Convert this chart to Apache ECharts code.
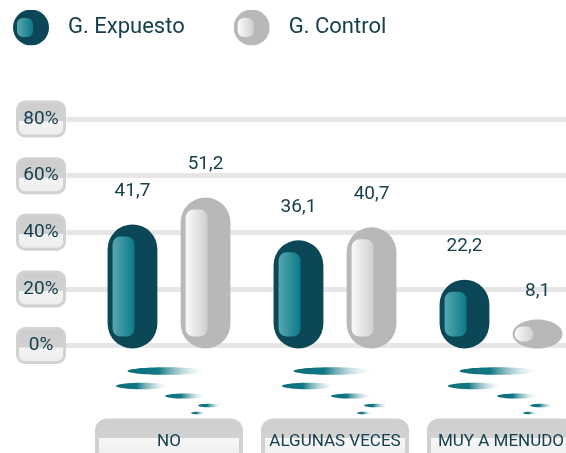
<!DOCTYPE html>
<html>
<head>
<meta charset="utf-8">
<script src="https://cdn.jsdelivr.net/npm/echarts@6/dist/echarts.min.js"></script>
<style>
  html, body { margin: 0; padding: 0; background: #fff; }
  #main { width: 566px; height: 453px; }
</style>
</head>
<body>
<div id="main"></div>
<script>
const categories = ['NO', 'ALGUNAS VECES', 'MUY A MENUDO'];
const expuesto = [41.7, 36.1, 22.2];
const control = [51.2, 40.7, 8.1];
const seriesNames = ['G. Expuesto', 'G. Control'];
const yMax = 80;
const yStep = 20;

const textColor = '#15404e';
const teal = { outer: '#0b4757', hiA: '#57a7b1', hiB: '#0a7a87' };
const grey = { outer: '#b8b8b8', hiA: '#fbfbfb', hiB: '#cfcfd3' };

// icono de leyenda: circulo con brillo
function iconSvg(c) {
  const svg = "<svg xmlns='http://www.w3.org/2000/svg' width='36' height='36'>" +
    "<defs><linearGradient id='g' x1='0' y1='0' x2='1' y2='0'>" +
    "<stop offset='0' stop-color='" + c.hiA + "'/><stop offset='1' stop-color='" + c.hiB + "'/>" +
    "</linearGradient></defs>" +
    "<circle cx='18' cy='18' r='18' fill='" + c.outer + "'/>" +
    "<rect x='4' y='8.5' width='16' height='19' rx='6' fill='url(#g)'/></svg>";
  return 'image://data:image/svg+xml;charset=utf-8,' + encodeURIComponent(svg);
}

function fmt(v) {
  return v.toFixed(1).replace('.', ',');
}

// barra tipo capsula
function capsule(colors, side) {
  return function (params, api) {
    const i = api.value(0);
    const v = api.value(1);
    const band = api.size([1, 0])[0];
    const w = band * 0.3;
    const top = api.coord([i, v]);
    const base = api.coord([i, 0]);
    const cx = top[0] + side * band * 0.22;
    const y0 = top[1] - 3;
    const y1 = base[1] + 3;
    const h = y1 - y0;
    const x0 = cx - w / 2;
    const flat = h < w;
    const outer = flat
      ? { type: 'ellipse', shape: { cx: cx, cy: (y0 + y1) / 2, rx: w / 2, ry: h / 2 }, style: { fill: colors.outer } }
      : { type: 'rect', shape: { x: x0, y: y0, width: w, height: h, r: w / 2 }, style: { fill: colors.outer } };
    const inset = Math.min(12, h * 0.24);
    const ih = h - 2 * inset;
    const inner = {
      type: 'rect',
      shape: {
        x: flat ? x0 + 2 : x0 + 5,
        y: y0 + inset,
        width: flat ? w * 0.38 : w * 0.44,
        height: ih,
        r: Math.min(8, ih / 2)
      },
      style: {
        fill: new echarts.graphic.LinearGradient(0, 0, 1, 0, [
          { offset: 0, color: colors.hiA },
          { offset: 1, color: colors.hiB }
        ])
      }
    };
    const label = {
      type: 'text',
      style: {
        text: fmt(v), x: cx, y: y0 - (flat ? 28 : 33),
        align: 'center', verticalAlign: 'middle',
        fill: textColor, font: '19px Roboto'
      }
    };
    return { type: 'group', children: [outer, inner, label] };
  };
}

// reflejos decorativos bajo cada grupo
function streaks(params, api) {
  const i = api.value(0);
  const p = api.coord([i, 0]);
  const shapes = [[-3, 25.5, 38.5, 3.8], [-27, 40.5, 26, 3.2], [16, 50.5, 20, 2.6], [40.5, 60, 11.5, 1.8], [29, 67.5, 7, 1.3]];
  return {
    type: 'group',
    children: shapes.map(function (s) {
      return {
        type: 'ellipse',
        shape: { cx: p[0] + s[0], cy: p[1] + s[1], rx: s[2], ry: s[3] },
        style: {
          fill: new echarts.graphic.LinearGradient(0, 0, 1, 0, [
            { offset: 0, color: '#0b6d79' },
            { offset: 0.4, color: '#127885' },
            { offset: 1, color: 'rgba(235,244,246,0.15)' }
          ])
        }
      };
    })
  };
}

const chart = echarts.init(document.getElementById('main'));

const option = {
  animation: false,
  textStyle: { fontFamily: 'Roboto' },
  legend: {
    left: 13,
    top: 9.5,
    padding: 0,
    itemWidth: 36,
    itemHeight: 36,
    itemGap: 49,
    data: seriesNames.map(function (n, k) {
      return { name: n, icon: iconSvg(k ? grey : teal) };
    }),
    textStyle: { fontSize: 22, color: textColor, padding: [0, 0, 0, 14] }
  },
  grid: [
    { left: 86, right: -18, top: 119, bottom: 107.5, outerBoundsMode: 'none' },
    { left: 63, right: 0, top: 119, bottom: 107.5, outerBoundsMode: 'none' }
  ],
  xAxis: [
    {
      type: 'category',
      gridIndex: 0,
      data: categories,
      axisLine: { show: false },
      axisTick: { show: false },
      axisLabel: {
        interval: 0,
        margin: 77,
        formatter: '{c|{value}}',
        rich: {
          c: {
            width: 140,
            height: 38,
            align: 'center',
            verticalAlign: 'middle',
            fontSize: 17,
            color: textColor,
            borderColor: '#d0d0d0',
            borderWidth: 4,
            borderRadius: 8,
            backgroundColor: new echarts.graphic.LinearGradient(0, 0, 0, 1, [
              { offset: 0, color: '#cfcfcf' },
              { offset: 0.42, color: '#d2d2d2' },
              { offset: 0.43, color: '#f7f7f7' },
              { offset: 1, color: '#ebebeb' }
            ])
          }
        }
      }
    },
    { type: 'value', gridIndex: 1, show: false }
  ],
  yAxis: [
    { type: 'value', gridIndex: 0, min: 0, max: yMax, show: false },
    {
      type: 'value',
      gridIndex: 1,
      min: 0,
      max: yMax,
      interval: yStep,
      axisLine: { show: false },
      axisTick: { show: false },
      splitLine: { lineStyle: { color: '#e6e6e6', width: 5 } },
      axisLabel: {
        margin: 0,
        formatter: '{t|{value}%}',
        rich: {
          t: {
            width: 44,
            height: 31,
            align: 'center',
            verticalAlign: 'middle',
            fontSize: 19,
            color: textColor,
            borderColor: '#d2d2d2',
            borderWidth: 3,
            borderRadius: 6,
            backgroundColor: new echarts.graphic.LinearGradient(0, 0, 0, 1, [
              { offset: 0, color: '#cdcdcd' },
              { offset: 0.55, color: '#d1d1d1' },
              { offset: 0.56, color: '#f5f5f5' },
              { offset: 1, color: '#ebebeb' }
            ])
          }
        }
      }
    }
  ],
  series: [
    {
      name: 'reflejo',
      type: 'custom',
      xAxisIndex: 0,
      yAxisIndex: 0,
      silent: true,
      renderItem: streaks,
      data: categories.map(function (c, i) { return [i, 0]; }),
      z: 1
    },
    {
      name: seriesNames[0],
      type: 'custom',
      xAxisIndex: 0,
      yAxisIndex: 0,
      renderItem: capsule(teal, -1),
      itemStyle: { color: teal.outer },
      data: expuesto.map(function (v, i) { return [i, v]; }),
      z: 3
    },
    {
      name: seriesNames[1],
      type: 'custom',
      xAxisIndex: 0,
      yAxisIndex: 0,
      renderItem: capsule(grey, 1),
      itemStyle: { color: grey.outer },
      data: control.map(function (v, i) { return [i, v]; }),
      z: 3
    }
  ]
};

chart.setOption(option);
</script>
</body>
</html>
